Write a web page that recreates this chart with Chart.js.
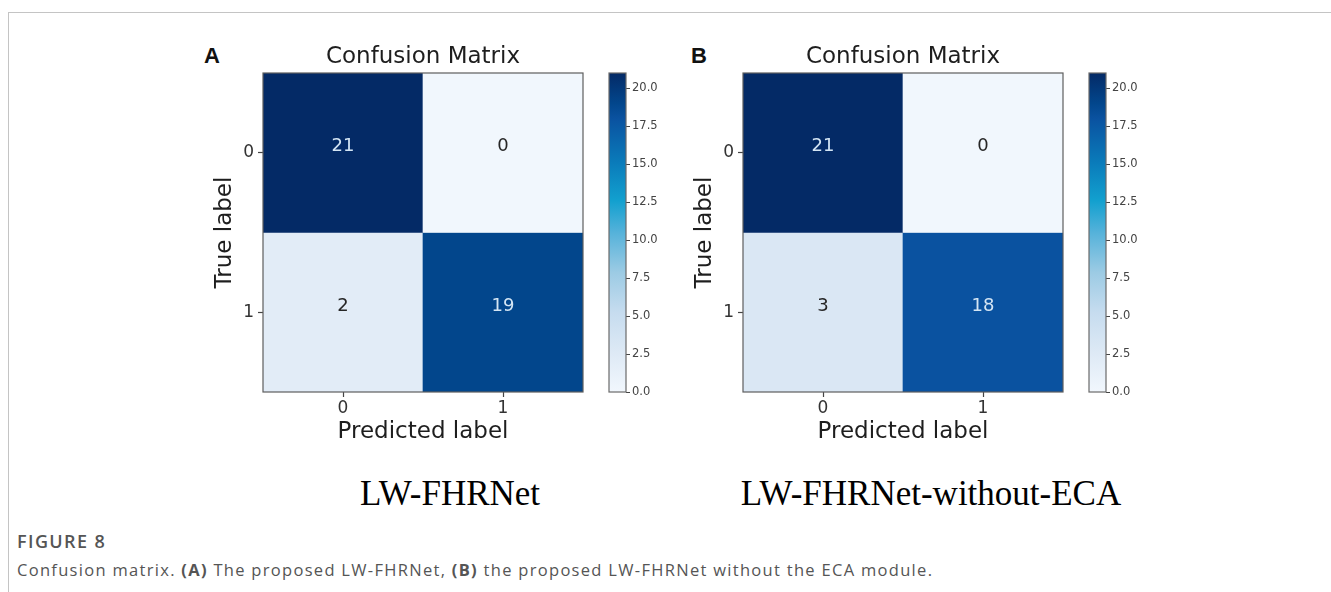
<!DOCTYPE html>
<html>
<head>
<meta charset="utf-8">
<script src="https://cdn.jsdelivr.net/npm/chart.js@4.4.1/dist/chart.umd.min.js"></script>
<style>
  html, body { margin: 0; padding: 0; background: #fff; }
  body { width: 1331px; height: 592px; position: relative; overflow: hidden; }
  .frame { position: absolute; left: 8px; top: 12px; width: 1330px; height: 590px;
           border-top: 1px solid #c4c4c4; border-left: 1px solid #c4c4c4; }
  canvas { position: absolute; }
  .letter { position: absolute; font: bold 22px "Liberation Sans", Arial, sans-serif; color: #111; line-height: 1; }
  .sub { position: absolute; font: 35px "Liberation Serif", "Times New Roman", serif; color: #000;
         transform: translateX(-50%); white-space: nowrap; line-height: 1; }
  .figno { position: absolute; left: 17px; top: 531px; font: 600 18px "Open Sans", sans-serif; color: #555;
           line-height: 1.2; letter-spacing: 1.4px; }
  .cap { position: absolute; left: 17px; top: 560px; font: 16.5px "Open Sans", sans-serif; color: #555;
         line-height: 1.2; white-space: nowrap; letter-spacing: 1.3px; }
  .cap b { font-weight: 700; }
</style>
</head>
<body>
<div class="frame"></div>

<div class="letter" style="left:204px; top:45px;">A</div>
<div class="letter" style="left:691px; top:45px;">B</div>

<canvas id="matA" width="466" height="425" style="left:190px; top:30px;"></canvas>
<canvas id="barA" width="60" height="425" style="left:600px; top:30px;"></canvas>
<canvas id="matB" width="466" height="425" style="left:670px; top:30px;"></canvas>
<canvas id="barB" width="60" height="425" style="left:1080px; top:30px;"></canvas>

<div class="sub" id="subA" style="left:450px; top:476px;"></div>
<div class="sub" id="subB" style="left:931px; top:476px;"></div>

<div class="figno">FIGURE 8</div>
<div class="cap">Confusion matrix. <b>(A)</b> The proposed LW-FHRNet, <b>(B)</b> the proposed LW-FHRNet without the ECA module.</div>

<script>
// Axis categories
const predictedLabels = ['0', '1'];
const trueLabels = ['0', '1'];

// Confusion matrices, rows = true label, columns = predicted label
const matrixA = [[21, 0], [2, 19]];
const matrixB = [[21, 0], [3, 18]];

// Colour bar ticks
const colorbarTicks = [0, 2.5, 5, 7.5, 10, 12.5, 15, 17.5, 20];

// Panel captions
const panelNames = ['LW-FHRNet', 'LW-FHRNet-without-ECA'];

document.getElementById('subA').textContent = panelNames[0];
document.getElementById('subB').textContent = panelNames[1];

// Blues-like colour ramp
const rampStops = [
  [0.000, [241, 247, 253]],
  [0.125, [221, 233, 245]],
  [0.250, [198, 220, 239]],
  [0.375, [156, 203, 228]],
  [0.500, [ 85, 178, 218]],
  [0.600, [ 18, 160, 207]],
  [0.720, [ 10, 123, 186]],
  [0.857, [ 10,  82, 160]],
  [0.905, [  2,  70, 140]],
  [1.000, [  4,  42, 102]]
];

function rampColor(t) {
  t = Math.max(0, Math.min(1, t));
  for (let k = 1; k < rampStops.length; k++) {
    const [t1, c1] = rampStops[k];
    const [t0, c0] = rampStops[k - 1];
    if (t <= t1) {
      const f = (t - t0) / (t1 - t0);
      const c = c0.map((v, i) => Math.round(v + (c1[i] - v) * f));
      return `rgb(${c[0]},${c[1]},${c[2]})`;
    }
  }
  const c = rampStops[rampStops.length - 1][1];
  return `rgb(${c[0]},${c[1]},${c[2]})`;
}

const FONT = 'DejaVu Sans';

// Outline around the plotting area
const outlinePlugin = {
  id: 'outline',
  afterDatasetsDraw(chart, args, opts) {
    const a = chart.chartArea;
    const ctx = chart.ctx;
    ctx.save();
    ctx.strokeStyle = opts.color || '#666';
    ctx.lineWidth = 1.2;
    ctx.strokeRect(a.left, a.top, a.right - a.left, a.bottom - a.top);
    ctx.restore();
  }
};

// Cell counts written inside each cell
const cellTextPlugin = {
  id: 'cellText',
  afterDatasetsDraw(chart) {
    const ctx = chart.ctx;
    const vmax = chart.options.plugins.cellText.vmax;
    ctx.save();
    ctx.font = `18px "${FONT}"`;
    ctx.textAlign = 'center';
    ctx.textBaseline = 'middle';
    chart.data.datasets.forEach((ds, i) => {
      const meta = chart.getDatasetMeta(i);
      meta.data.forEach((el, j) => {
        const v = ds.values[j];
        ctx.fillStyle = v > vmax / 2 ? '#d4e5f4' : '#262626';
        ctx.fillText(String(v), el.x, (el.y + el.base) / 2 - 6);
      });
    });
    ctx.restore();
  }
};

function drawMatrix(id, matrix) {
  const vmax = Math.max(...matrix.flat());
  return new Chart(document.getElementById(id), {
    type: 'bar',
    data: {
      labels: predictedLabels,
      datasets: trueLabels.map((lab, i) => ({
        label: lab,
        data: predictedLabels.map(() => [i - 0.5, i + 0.5]),
        values: matrix[i],
        backgroundColor: matrix[i].map(v => rampColor(v / vmax)),
        borderWidth: 0,
        barPercentage: 1,
        categoryPercentage: 1,
        grouped: false
      }))
    },
    options: {
      responsive: false,
      animation: false,
      devicePixelRatio: 1,
      events: [],
      layout: { padding: 0 },
      plugins: {
        legend: { display: false },
        tooltip: { enabled: false },
        title: {
          display: true,
          text: 'Confusion Matrix',
          color: '#1e1e1e',
          font: { family: FONT, size: 23, weight: 'normal' },
          padding: { top: 13, bottom: 2.4 }
        },
        outline: { color: '#5e5e5e' },
        cellText: { vmax }
      },
      scales: {
        x: {
          type: 'category',
          grid: { offset: false, drawOnChartArea: false, tickLength: 5, color: '#444', tickWidth: 1.2 },
          border: { display: false },
          ticks: { color: '#333', font: { family: FONT, size: 17 }, padding: 1, maxRotation: 0 },
          title: {
            display: true, text: 'Predicted label', color: '#1e1e1e',
            font: { family: FONT, size: 23 }, padding: { top: 0, bottom: 9 }
          },
          afterFit(s) { s.height = 63; }
        },
        y: {
          type: 'linear',
          min: -0.5,
          max: 1.5,
          reverse: true,
          afterBuildTicks(s) { s.ticks = trueLabels.map((_, i) => ({ value: i })); },
          ticks: { color: '#333', font: { family: FONT, size: 17 }, padding: 4,
                   callback: v => trueLabels[v] },
          grid: { drawOnChartArea: false, tickLength: 5, color: '#444', tickWidth: 1.2 },
          border: { display: false },
          title: {
            display: true, text: 'True label', color: '#1e1e1e',
            font: { family: FONT, size: 23 }, padding: { top: 21, bottom: 0 }
          },
          afterFit(s) { s.width = 73; }
        },
        // empty right-hand gutter so the title sits centred over the cells
        gutter: {
          type: 'linear',
          position: 'right',
          display: true,
          grid: { display: false },
          border: { display: false },
          ticks: { display: false },
          afterFit(s) { s.width = 73; }
        }
      }
    },
    plugins: [cellTextPlugin, outlinePlugin]
  });
}

function drawColorbar(id, matrix) {
  const vmax = Math.max(...matrix.flat());
  return new Chart(document.getElementById(id), {
    type: 'bar',
    data: {
      labels: [''],
      datasets: [{
        data: [[0, vmax]],
        backgroundColor: (c) => {
          const a = c.chart.chartArea;
          if (!a) return rampColor(0.5);
          const g = c.chart.ctx.createLinearGradient(0, a.bottom, 0, a.top);
          rampStops.forEach(([t, col]) => g.addColorStop(t, `rgb(${col[0]},${col[1]},${col[2]})`));
          return g;
        },
        borderWidth: 0,
        barPercentage: 1,
        categoryPercentage: 1
      }]
    },
    options: {
      responsive: false,
      animation: false,
      devicePixelRatio: 1,
      events: [],
      layout: { padding: { left: 9, right: 0, top: 43, bottom: 63 } },
      plugins: {
        legend: { display: false },
        tooltip: { enabled: false },
        outline: { color: '#6a6a6a' }
      },
      scales: {
        x: { display: false },
        y: {
          position: 'right',
          min: 0,
          max: vmax,
          afterBuildTicks(s) { s.ticks = colorbarTicks.map(v => ({ value: v })); },
          ticks: { color: '#444', font: { family: FONT, size: 11.5 }, padding: 2, autoSkip: false,
                   callback: v => Number(v).toFixed(1) },
          grid: { drawOnChartArea: false, tickLength: 4, color: '#444' },
          border: { display: false },
          afterFit(s) { s.width = 34; }
        }
      }
    },
    plugins: [outlinePlugin]
  });
}

drawMatrix('matA', matrixA);
drawColorbar('barA', matrixA);
drawMatrix('matB', matrixB);
drawColorbar('barB', matrixB);
</script>
</body>
</html>
